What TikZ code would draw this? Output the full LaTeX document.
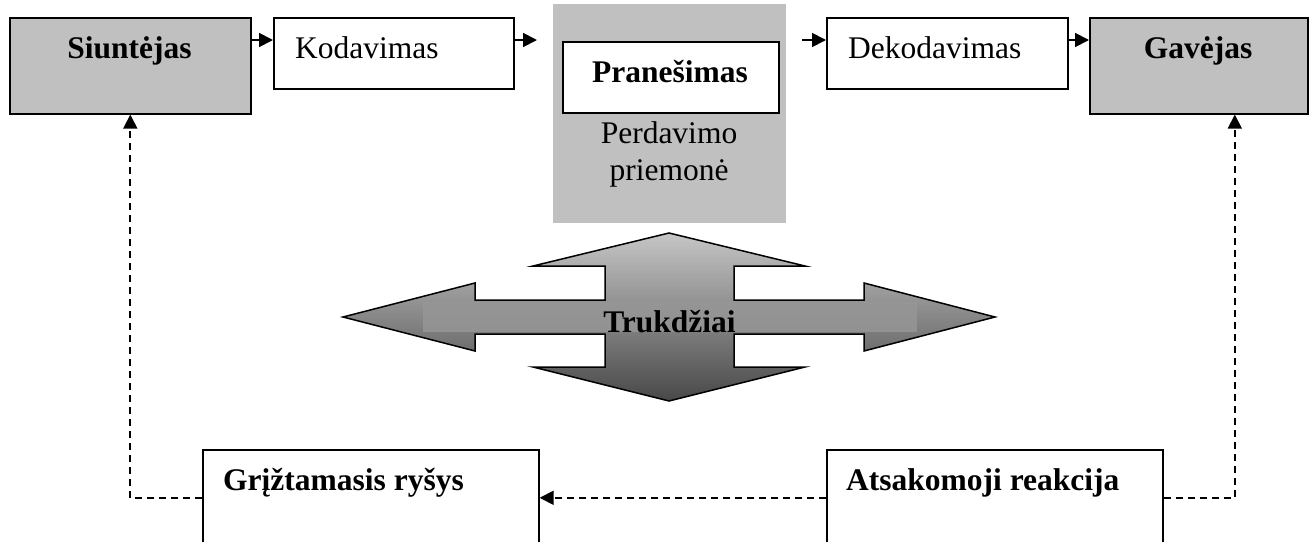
\documentclass[tikz,border=0pt]{standalone}
\usepackage{fontspec}
\setmainfont{Liberation Serif}
\usetikzlibrary{arrows.meta}
\definecolor{boxgray}{RGB}{192,192,192}
\definecolor{crosstop}{RGB}{198,198,198}
\definecolor{crossbot}{RGB}{72,72,72}
\definecolor{bandgray}{RGB}{150,150,150}
\begin{document}
\begin{tikzpicture}[x=1pt,y=-1pt,
  box/.style={draw=black, line width=1.6pt, fill=white, inner sep=0pt, anchor=north west},
  graybox/.style={box, fill=boxgray},
  txt/.style={font=\fontsize{31.5}{37}\selectfont, inner sep=0pt},
  btxt/.style={font=\fontsize{31.5}{37}\selectfont\bfseries, inner sep=0pt},
  arr/.style={line width=1.8pt, -{Triangle[length=14pt,width=14pt]}},
  darr/.style={arr, dash pattern=on 7pt off 5pt},
  crossshape/.style={draw=black, line width=1.5pt, top color=crosstop, bottom color=crossbot}]
\useasboundingbox (0,0) rectangle (1312,541);
\clip (0,0) rectangle (1312,541);
% boxes
\node[graybox, minimum width=241pt, minimum height=96pt] (s) at (9,17) {};
\node[box, minimum width=240pt, minimum height=71pt] (k) at (273,17) {};
\node[inner sep=0pt, fill=boxgray, minimum width=233pt, minimum height=219pt, anchor=north west] (p) at (553,4) {};
\node[box, minimum width=216pt, minimum height=71pt] (pr) at (562,41) {};
\node[box, minimum width=241pt, minimum height=71pt] (d) at (826,17) {};
\node[graybox, minimum width=218pt, minimum height=96pt] (gv) at (1089,17) {};
\node[box, minimum width=336pt, minimum height=96pt] (g) at (202,449) {};
\node[box, minimum width=336pt, minimum height=96pt] (a) at (826,449) {};
% texts
\node[btxt, anchor=base] (st) at (129.5,58) {Siuntėjas};
\node[txt, anchor=base west] (kt) at (295,58) {Kodavimas};
\node[btxt, anchor=base] (prt) at (670,82) {Pranešimas};
\node[txt, anchor=base] (pt1) at (669,143) {Perdavimo};
\node[txt, anchor=base] (pt2) at (669,180) {priemonė};
\node[txt, anchor=base west] (dt) at (848,58) {Dekodavimas};
\node[btxt, anchor=base] (gvt) at (1198,58) {Gavėjas};
\node[btxt, anchor=base west] (gt) at (223,490) {Grįžtamasis ryšys};
\node[btxt, anchor=base west] (at) at (846,490) {Atsakomoji reakcija};
% cross arrow
\path[crossshape]
 (669,233) -- (805,266) -- (734,266) -- (734,300) -- (864,300) -- (864,283) -- (995,317)
 -- (864,351) -- (864,334) -- (734,334) -- (734,367) -- (805,367) -- (669,401)
 -- (533,367) -- (605,367) -- (605,334) -- (475,334) -- (475,351) -- (343,317)
 -- (475,283) -- (475,300) -- (605,300) -- (605,266) -- (533,266) -- cycle;
\node[fill=bandgray, fill opacity=0.85, minimum width=494pt, minimum height=30pt, inner sep=0pt] (band) at (670,317) {};
\node[btxt, anchor=base] (tt) at (669.5,332) {Trukdžiai};
% arrows
\coordinate (k2) at (537,40);
\coordinate (d0) at (802,40);
\draw[arr] ([yshift=-23pt]s.north east) -- ([yshift=-23pt]k.north west);
\draw[arr] ([yshift=-23pt]k.north east) -- (k2);
\draw[arr] (d0) -- ([yshift=-23pt]d.north west);
\draw[arr] ([yshift=-23pt]d.north east) -- ([yshift=-23pt]gv.north west);
\draw[darr] (a.west) -- (g.east);
\draw[darr] (g.west) -| (s.south);
\draw[darr] (a.east) -| ([xshift=36pt]gv.south);
\end{tikzpicture}
\end{document}
